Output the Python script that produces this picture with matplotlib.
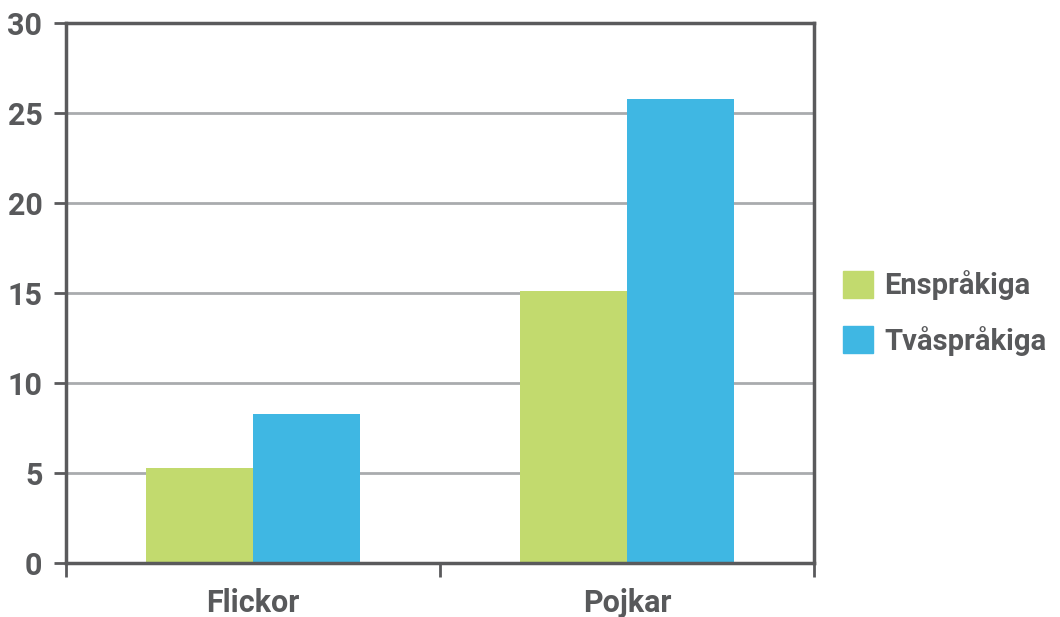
"""Grouped bar chart: Enspråkiga vs Tvåspråkiga by gender."""

import matplotlib

matplotlib.use("Agg")
import matplotlib.pyplot as plt
import numpy as np
from matplotlib.patches import Patch

categories = ["Flickor", "Pojkar"]
series_names = ["Enspråkiga", "Tvåspråkiga"]
enspraakiga = [5.3, 15.1]
tvaspraakiga = [8.3, 25.8]
y_ticks = [0, 5, 10, 15, 20, 25, 30]

GREEN = "#c2da6e"
BLUE = "#3fb7e3"
TEXT = "#58595b"
SPINE = "#5a5a5c"
GRID = "#a9abae"

plt.rcParams["font.family"] = ["Roboto", "DejaVu Sans"]
plt.rcParams["font.weight"] = "bold"

fig = plt.figure(figsize=(10.6, 6.17), dpi=100)
ax = fig.add_axes([0.0623, 0.0875, 0.7057, 0.8752])

x = np.arange(len(categories))
width = 0.286
ax.bar(x - width / 2, enspraakiga, width, color=GREEN, zorder=3)
ax.bar(x + width / 2, tvaspraakiga, width, color=BLUE, zorder=3)

ax.set_xlim(-0.5, len(categories) - 0.5)
ax.set_ylim(0, 30)
ax.set_yticks(y_ticks)
ax.set_yticklabels([str(t) for t in y_ticks])
ax.yaxis.grid(True, color=GRID, linewidth=2, zorder=0)

# category labels centred, ticks on category boundaries
ax.set_xticks(np.arange(-0.5, len(categories), 1.0))
ax.set_xticklabels([])
ax.set_xticks(x, minor=True)
ax.set_xticklabels(categories, minor=True)
ax.tick_params(axis="x", which="major", direction="out", length=10, width=2, color=SPINE)
ax.tick_params(axis="x", which="minor", length=0, pad=18, labelsize=22, labelcolor=TEXT)
ax.tick_params(axis="y", direction="out", length=9, width=2, color=SPINE,
               pad=8, labelsize=22, labelcolor=TEXT)

for spine in ax.spines.values():
    spine.set_color(SPINE)
    spine.set_linewidth(2.5)
    spine.set_zorder(4)

handles = [Patch(color=GREEN), Patch(color=BLUE)]
ax.legend(handles, series_names, loc="center left", bbox_to_anchor=(1.038, 0.463),
          borderaxespad=0, borderpad=0,
          frameon=False, fontsize=21, labelcolor=TEXT, handlelength=1.03,
          handleheight=1.03, handletextpad=0.4, labelspacing=0.86)

fig.savefig("out.png", dpi=100)
